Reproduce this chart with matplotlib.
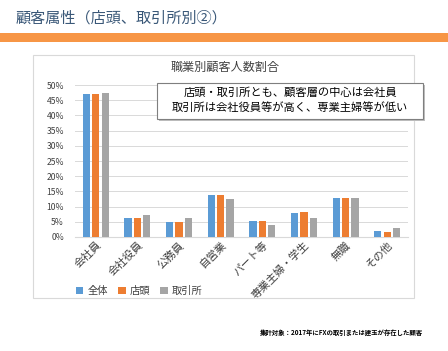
import numpy as np
import matplotlib
matplotlib.use("Agg")
from matplotlib import pyplot as plt
from matplotlib.patches import Rectangle
from matplotlib.ticker import PercentFormatter

plt.rcParams['font.family'] = ['Noto Sans CJK JP', 'DejaVu Sans']

# Data (percent)
categories = ["会社員", "会社役員", "公務員", "自営業", "パート等", "専業主婦・学生", "無職", "その他"]
zentai = [47.2, 6.1, 4.9, 13.7, 5.1, 8.0, 12.8, 2.1]
tento = [47.2, 6.1, 4.9, 13.8, 5.1, 8.1, 12.8, 1.8]
torihikijo = [47.5, 7.4, 6.4, 12.4, 4.1, 6.4, 12.7, 2.8]
series_names = ["全体", "店頭", "取引所"]
colors = ["#5B9BD5", "#ED7D31", "#A5A5A5"]

W, H = 448, 351
fig = plt.figure(figsize=(W / 100, H / 100), dpi=100)

def fx(px):
    return px / W

def fy(py):
    return 1 - py / H

# Slide header
fig.text(fx(16), fy(18), "顧客属性（店頭、取引所別②）", fontsize=10.9, color="#3A5878",
         ha="left", va="center")
fig.patches.append(Rectangle((0, fy(42)), 1, 9 / H, transform=fig.transFigure,
                             facecolor="#F79646", edgecolor="none"))

# Chart frame
fig.patches.append(Rectangle((fx(33), fy(298)), fx(381), 243 / H, transform=fig.transFigure,
                             facecolor="white", edgecolor="#D9D9D9", linewidth=0.8, zorder=0))

ax = fig.add_axes([fx(75), fy(237), fx(333), 152 / H])
ax.set_zorder(2)
x = np.arange(len(categories))
step = 0.225
width = 0.175
for k, (vals, name, c) in enumerate(zip([zentai, tento, torihikijo], series_names, colors)):
    ax.bar(x + (k - 1) * step, vals, width=width, color=c, label=name, zorder=3)

ax.set_ylim(0, 50)
ax.set_xlim(-0.5, len(categories) - 0.5)
ax.set_yticks(np.arange(0, 51, 5))
ax.yaxis.set_major_formatter(PercentFormatter(decimals=0))
ax.grid(axis="y", color="#D9D9D9", linewidth=0.7, zorder=0)
for s in ["top", "right", "left"]:
    ax.spines[s].set_visible(False)
ax.spines["bottom"].set_color("#D9D9D9")
ax.tick_params(axis="y", length=0, labelsize=6.2, pad=8, labelcolor="#404040")
ax.tick_params(axis="x", length=0, labelsize=7.8, pad=2, labelcolor="#404040")
ax.set_xticks(x)
ax.set_xticklabels(categories, rotation=45, ha="right", rotation_mode="anchor")
ax.patch.set_alpha(0)

fig.text(fx(225), fy(67), "職業別顧客人数割合", fontsize=8.7, color="#404040", ha="center", va="center")

# Annotation box
fig.patches.append(Rectangle((fx(159), fy(121)), fx(266), 36 / H, transform=fig.transFigure,
                             facecolor="#BFBFBF", edgecolor="none", zorder=4))
fig.patches.append(Rectangle((fx(157), fy(119)), fx(266), 36 / H, transform=fig.transFigure,
                             facecolor="white", edgecolor="#7F7F7F", linewidth=0.8, zorder=5))
fig.text(fx(290), fy(93), "店頭・取引所とも、顧客層の中心は会社員", fontsize=8.1,
         ha="center", va="center", zorder=6)
fig.text(fx(290), fy(108), "取引所は会社役員等が高く、専業主婦等が低い", fontsize=8.1,
         ha="center", va="center", zorder=6)

# Legend
leg = fig.legend(loc="center left", bbox_to_anchor=(fx(67), fy(291)), ncol=3, frameon=False,
                 fontsize=7.4, handlelength=0.7, handleheight=0.7, handletextpad=0.4,
                 columnspacing=1.0, labelcolor="#404040")
leg.set_zorder(6)

# Footnote
fig.text(fx(423), fy(333), "集計対象：2017年にFXの取引または建玉が存在した顧客", fontsize=4.6,
         ha="right", va="center", fontweight="bold")

fig.savefig("out.png", dpi=100)
